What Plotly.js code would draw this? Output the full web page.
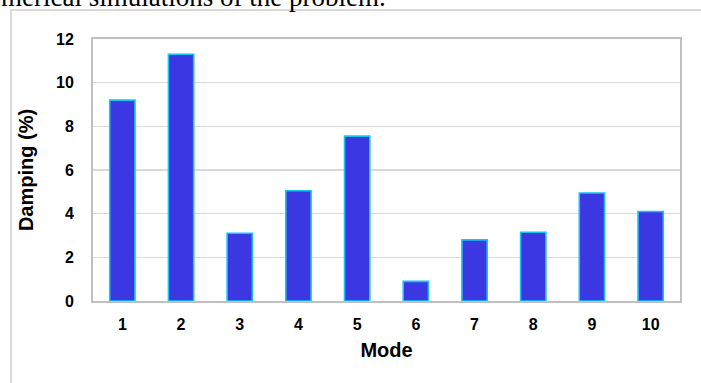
<!DOCTYPE html>
<html>
<head>
<meta charset="utf-8">
<script src="https://cdn.plot.ly/plotly-3.0.1.min.js"></script>
<style>
  html, body { margin: 0; padding: 0; background: #ffffff; }
  #chart { width: 701px; height: 383px; }
</style>
</head>
<body>
<div id="chart"></div>
<script>
// Damping ratio identified for each vibration mode
const modes = ['1', '2', '3', '4', '5', '6', '7', '8', '9', '10'];
const damping = [9.2, 11.3, 3.1, 5.05, 7.55, 0.9, 2.8, 3.15, 4.95, 4.1];
const yTicks = [0, 2, 4, 6, 8, 10, 12];

const boldFont = 'Arial, "Liberation Sans", sans-serif';

const trace = {
  type: 'bar',
  x: modes,
  y: damping,
  marker: {
    color: '#3a37e3',
    line: { color: '#14c4f2', width: 1.6 }
  },
  hoverinfo: 'x+y'
};

// plot box in pixels, used to place the outer frame and the caption line
const L = 93, R = 21, T = 39, B = 82, W = 701, H = 383;
const pw = W - L - R, ph = H - T - B;
const px = v => (v - L) / pw;
const py = v => (H - B - v) / ph;

const layout = {
  width: W,
  height: H,
  margin: { l: L, r: R, t: T, b: B, pad: 0 },
  paper_bgcolor: '#ffffff',
  plot_bgcolor: '#ffffff',
  showlegend: false,
  bargap: 0.57,
  font: { family: boldFont, color: '#000000' },
  xaxis: {
    type: 'category',
    categoryorder: 'array',
    categoryarray: modes,
    showgrid: false,
    zeroline: false,
    showline: true,
    mirror: true,
    linecolor: '#c0c0c0',
    linewidth: 2,
    ticks: '',
    ticklabelstandoff: 8,
    tickfont: { family: boldFont, size: 16, color: '#000000', weight: 'bold' },
    title: {
      text: '<b>Mode</b>',
      font: { family: boldFont, size: 20, color: '#000000' },
      standoff: 11
    },
    automargin: false,
    fixedrange: true
  },
  yaxis: {
    range: [0, 12],
    tickvals: yTicks,
    ticktext: yTicks.map(String),
    showgrid: true,
    gridcolor: '#d9d9d9',
    gridwidth: 1.5,
    zeroline: false,
    showline: true,
    mirror: true,
    linecolor: '#c0c0c0',
    linewidth: 2,
    ticks: '',
    ticklabelstandoff: 14,
    tickfont: { family: boldFont, size: 16, color: '#000000', weight: 'bold' },
    title: {
      text: '<b>Damping (%)</b>',
      font: { family: boldFont, size: 20, color: '#000000' },
      standoff: 17
    },
    automargin: false,
    fixedrange: true
  },
  shapes: [
    {
      type: 'rect',
      xref: 'paper', yref: 'paper',
      x0: px(11), x1: px(W + 10),
      y0: py(H + 10), y1: py(10),
      line: { color: '#d9d9d9', width: 2 },
      fillcolor: 'rgba(0,0,0,0)',
      layer: 'below'
    }
  ],
  annotations: [
    {
      text: 'merical simulations of the problem.',
      xref: 'paper', yref: 'paper',
      x: px(0), y: py(13),
      xanchor: 'left', yanchor: 'bottom',
      showarrow: false,
      borderpad: 0,
      font: { family: '"Liberation Serif", "Times New Roman", serif', size: 27, color: '#000000' }
    }
  ]
};

Plotly.newPlot('chart', [trace], layout, { displayModeBar: false, staticPlot: true });
</script>
</body>
</html>
